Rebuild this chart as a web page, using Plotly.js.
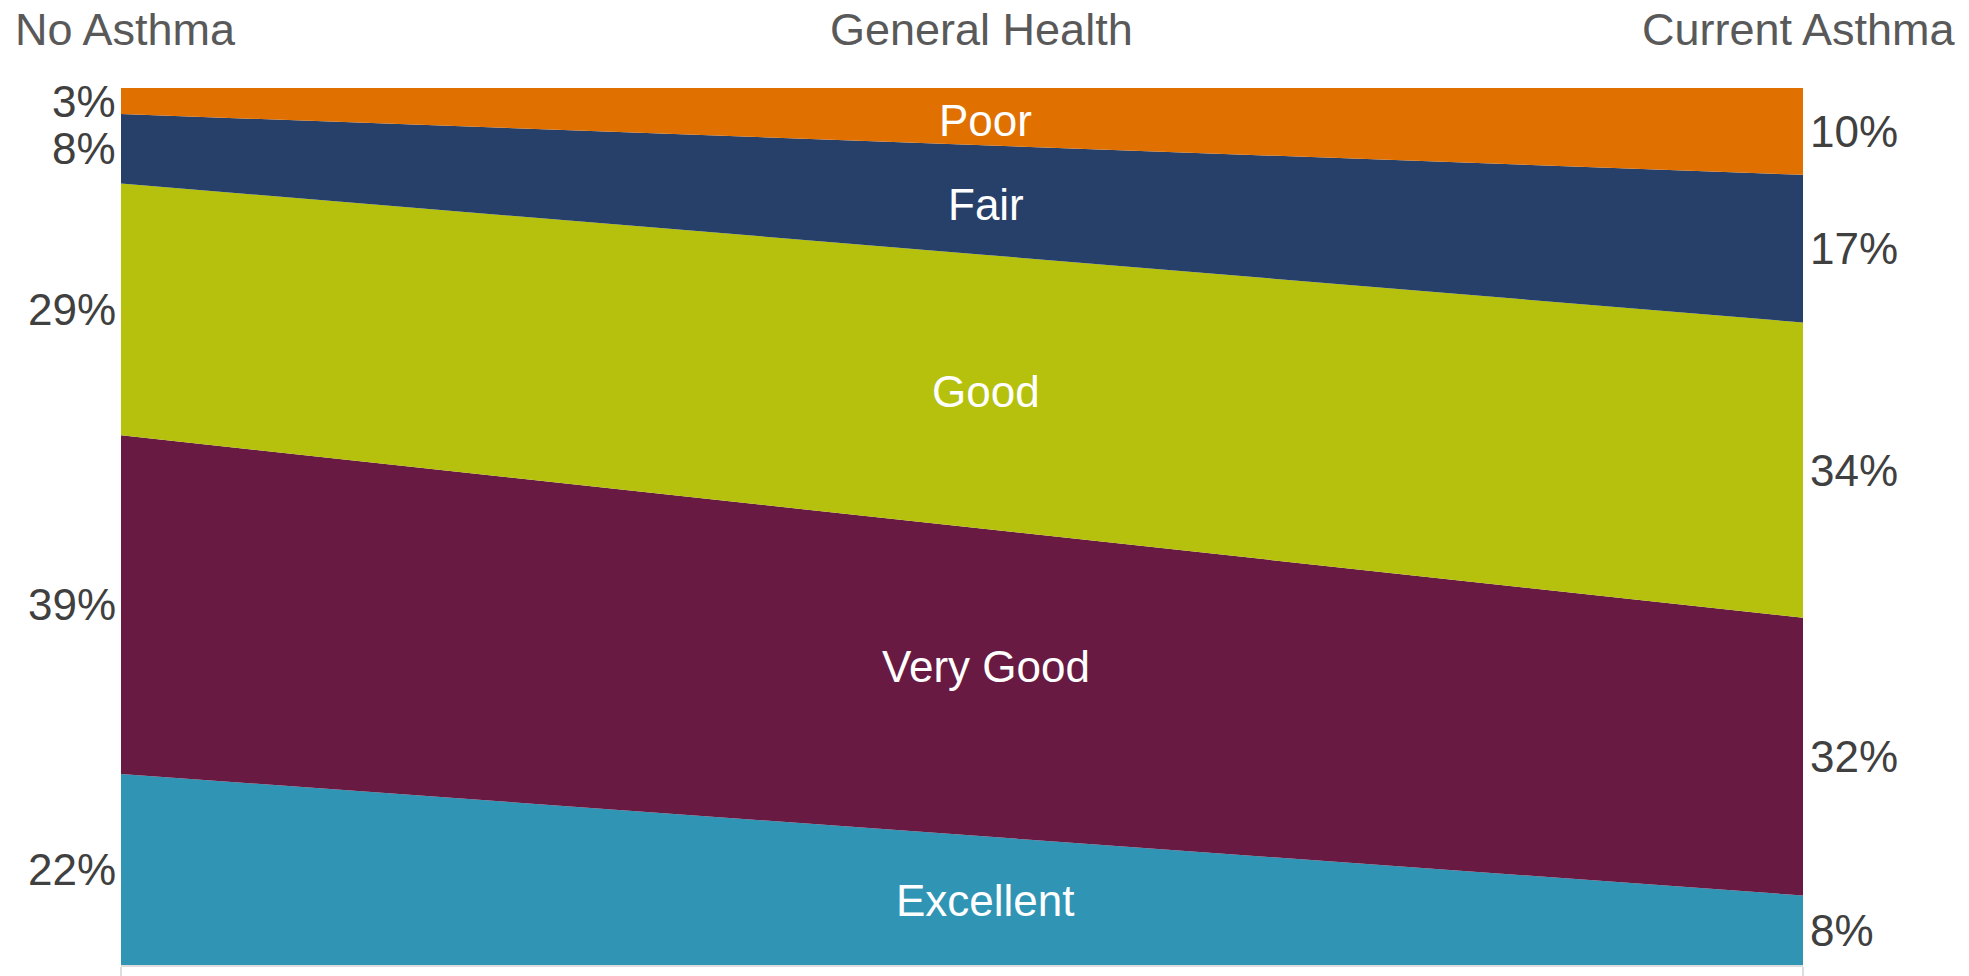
<!DOCTYPE html>
<html>
<head>
<meta charset="utf-8">
<script src="https://cdn.plot.ly/plotly-3.0.1.min.js"></script>
<style>
  html, body { margin: 0; padding: 0; background: #fff; }
  #chart { width: 1969px; height: 976px; }
</style>
</head>
<body>
<div id="chart"></div>
<script>
// Self-reported general health, share of adults by asthma status
const groups = ['No Asthma', 'Current Asthma'];
const categories = ['Excellent', 'Very Good', 'Good', 'Fair', 'Poor'];   // bottom to top
const noAsthma = [22, 39, 29, 8, 3];
const currentAsthma = [8, 32, 34, 17, 10];
const colors = ['#3094B4', '#681A42', '#B5C10D', '#26406A', '#E07000'];
const chartTitle = 'General Health';

const FONT = 'Liberation Sans, Arial, sans-serif';
const labelX = 0.514;   // horizontal position of the category names
// small vertical nudges (px) for the in-band category names
const nameShift = { 'Very Good': 16, 'Fair': -4, 'Poor': -4 };

const traces = categories.map((c, i) => ({
  type: 'scatter',
  mode: 'none',
  name: c,
  x: [0, 1],
  y: [noAsthma[i], currentAsthma[i]],
  stackgroup: 'health',
  groupnorm: 'percent',
  fillcolor: colors[i],
  line: { width: 0 },
  hoverinfo: 'skip'
}));

// cumulative (normalised) boundaries for label placement
function bounds(vals) {
  const total = vals.reduce((a, b) => a + b, 0);
  let acc = 0;
  return vals.map(v => {
    const lo = acc / total * 100;
    acc += v;
    return [lo, acc / total * 100];
  });
}
const bL = bounds(noAsthma);
const bR = bounds(currentAsthma);

const annotations = [];
categories.forEach((c, i) => {
  const midL = (bL[i][0] + bL[i][1]) / 2;
  const midR = (bR[i][0] + bR[i][1]) / 2;
  annotations.push({
    x: 0, y: midL, xref: 'x', yref: 'y', xanchor: 'right', yanchor: 'middle',
    xshift: -3, text: noAsthma[i] + '%', showarrow: false,
    font: { family: FONT, size: 44, color: '#404040' }
  });
  annotations.push({
    x: 1, y: midR, xref: 'x', yref: 'y', xanchor: 'left', yanchor: 'middle',
    xshift: 5, text: currentAsthma[i] + '%', showarrow: false,
    font: { family: FONT, size: 44, color: '#404040' }
  });
  const midC = midL * (1 - labelX) + midR * labelX;
  annotations.push({
    x: labelX, y: midC, xref: 'x', yref: 'y', xanchor: 'center', yanchor: 'middle',
    yshift: nameShift[c] || 0,
    text: c, showarrow: false,
    font: { family: FONT, size: 44, color: '#ffffff' }
  });
});

// column headers (pixel positions, converted to paper fractions below)
const headerFont = { family: FONT, size: 45, color: '#595959' };
const headers = [
  { x: 13, text: groups[0], xanchor: 'left' },
  { x: 982, text: chartTitle, xanchor: 'center' },
  { x: 1958, text: groups[1], xanchor: 'right' }
];

const L = 121, R = 166, T = 88, B = 11, W = 1969, H = 976;
const pw = W - L - R, ph = H - T - B;
headers.forEach(h => {
  annotations.push({
    x: (h.x - L) / pw, y: (H - 30 - B) / ph, xref: 'paper', yref: 'paper',
    text: h.text, showarrow: false, font: headerFont,
    xanchor: h.xanchor, yanchor: 'middle'
  });
});

const layout = {
  width: W, height: H,
  margin: { l: L, r: R, t: T, b: B, pad: 0 },
  paper_bgcolor: '#ffffff',
  plot_bgcolor: '#ffffff',
  showlegend: false,
  xaxis: {
    range: [0, 1], fixedrange: true,
    showgrid: false, zeroline: false,
    showline: true, linecolor: '#dddddd', linewidth: 2,
    tickvals: [0, 1], ticks: 'outside', ticklen: 12, tickwidth: 2, tickcolor: '#dddddd',
    showticklabels: false
  },
  yaxis: {
    range: [0, 100], fixedrange: true,
    showgrid: false, zeroline: false, showline: false,
    showticklabels: false, ticks: ''
  },
  annotations: annotations
};

Plotly.newPlot('chart', traces, layout, { displayModeBar: false, staticPlot: true });
</script>
</body>
</html>
